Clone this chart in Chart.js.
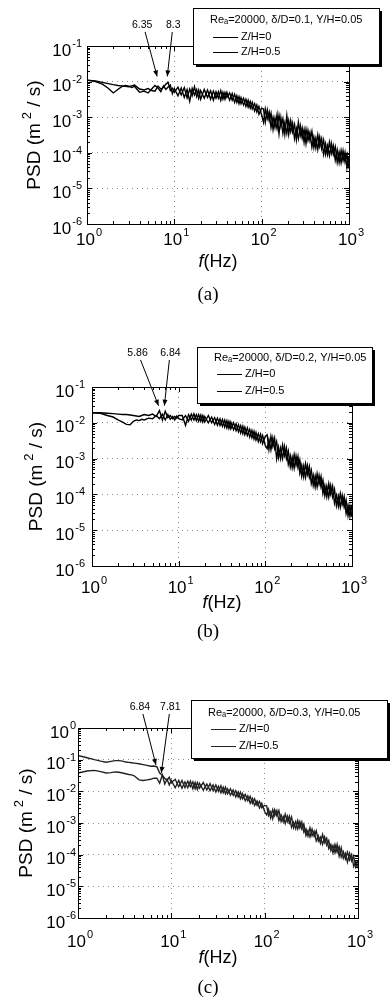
<!DOCTYPE html>
<html lang="en">
<head>
<meta charset="UTF-8">
<title>PSD spectra</title>
<script src="https://cdn.jsdelivr.net/npm/chart.js"></script>
<style>
  body { margin: 0; background: #fff; width: 391px; height: 1004px; overflow: hidden; }
  canvas { display: block; }
</style>
</head>
<body>
<canvas id="chartA" width="391" height="330"></canvas>
<canvas id="chartB" width="391" height="330"></canvas>
<canvas id="chartC" width="391" height="344"></canvas>

<script>
// ---- data ----
const freq = [1, 1.25, 1.5, 1.75, 2, 2.25, 2.5, 2.75, 3, 3.25, 3.5, 3.75, 4, 4.5, 5, 5.5, 6, 6.5, 7, 7.5, 8, 8.5, 9, 9.5, 10,
  11, 12, 13, 14, 15, 16, 17, 18, 19, 20, 22, 24, 26, 28, 30, 32, 34, 36, 38, 40, 43, 46, 49, 52, 55, 58, 62, 66, 70, 74, 78, 83, 88, 93, 100,
  105, 110, 116, 122, 128, 135, 142, 150, 158, 166, 175, 184, 194, 204, 215, 226, 238, 250, 263, 277, 291, 306, 322, 339, 357,
  376, 396, 417, 439, 462, 486, 512, 539, 567, 597, 628, 661, 696, 733, 771, 812, 855, 900, 947, 1000];

const seriesLabels = ['Z/H=0', 'Z/H=0.5'];
const xTicks = [1, 10, 100, 1000];
const yTicksAB = [1e-6, 1e-5, 1e-4, 1e-3, 1e-2, 1e-1];
const yTicksC = [1e-6, 1e-5, 1e-4, 1e-3, 1e-2, 1e-1, 1];

// (a) δ/D = 0.1
const headerA = 'Reₐ=20000, δ/D=0.1, Y/H=0.05';
const psdA_z0 = [1.1e-2, 1.05e-2, 9.5e-3, 8.8e-3, 8.2e-3, 7.8e-3, 7.6e-3, 7.4e-3, 7.2e-3, 7.6e-3, 8.0e-3, 7.0e-3, 6.2e-3, 5.8e-3, 6.4e-3, 5.6e-3, 5.4e-3, 7.5e-3, 6.2e-3, 6.8e-3, 8.5e-3, 9.5e-3, 5.6e-3, 6.5e-3, 5.0e-3,
  7.0e-3, 4.2e-3, 6.8e-3, 3.5e-3, 6.2e-3, 4.0e-3, 7.2e-3, 3.8e-3, 5.8e-3, 3.2e-3, 6.0e-3, 3.6e-3, 5.5e-3, 3.0e-3, 5.2e-3, 3.4e-3, 5.6e-3, 3.2e-3, 5.0e-3, 3.6e-3,
  4.8e-3, 3.0e-3, 4.4e-3, 2.6e-3, 3.8e-3, 2.4e-3, 3.4e-3, 2.0e-3, 3.0e-3, 1.8e-3, 2.6e-3, 1.5e-3, 2.2e-3, 1.2e-3, 1.8e-3,
  1.7e-3, 7.2e-4, 1.6e-3, 8.0e-4, 1.3e-3, 4.5e-4, 9.5e-4, 4.8e-4, 1.15e-3, 5.5e-4, 9.0e-4, 3.3e-4, 1.1e-3, 3.3e-4, 8.0e-4,
  3.8e-4, 6.3e-4, 2.35e-4, 7.2e-4, 3.0e-4, 5.0e-4, 1.95e-4, 4.6e-4, 2.2e-4, 3.75e-4, 1.45e-4, 2.8e-4, 1.35e-4, 3.2e-4, 1.5e-4,
  2.5e-4, 9.1e-5, 1.8e-4, 9.0e-5, 2.0e-4, 9.5e-5, 1.6e-4, 6.2e-5, 1.2e-4, 5.3e-5, 1.17e-4, 6.0e-5, 1.05e-4, 3.8e-5, 8.0e-5];
const psdA_z05 = [1.1e-2, 1.0e-2, 8.5e-3, 6.5e-3, 4.8e-3, 6.0e-3, 7.2e-3, 7.8e-3, 7.5e-3, 6.8e-3, 7.4e-3, 6.0e-3, 5.0e-3, 5.4e-3, 4.8e-3, 6.2e-3, 7.8e-3, 6.6e-3, 5.2e-3, 7.6e-3, 6.0e-3, 7.0e-3, 8.0e-3, 4.6e-3, 6.4e-3,
  4.0e-3, 6.6e-3, 3.6e-3, 6.0e-3, 2.8e-3, 6.4e-3, 4.2e-3, 6.0e-3, 3.4e-3, 5.6e-3, 3.4e-3, 5.8e-3, 3.2e-3, 5.4e-3, 3.4e-3, 5.2e-3, 3.0e-3, 5.0e-3, 3.2e-3, 5.0e-3,
  3.0e-3, 4.6e-3, 2.6e-3, 4.0e-3, 2.4e-3, 3.6e-3, 2.2e-3, 3.2e-3, 1.9e-3, 2.8e-3, 1.7e-3, 2.4e-3, 1.4e-3, 2.0e-3, 1.15e-3,
  7.2e-4, 1.7e-3, 9.0e-4, 1.4e-3, 5.1e-4, 1.0e-3, 5.1e-4, 1.2e-3, 3.4e-4, 9.6e-4, 3.5e-4, 7.0e-4, 3.5e-4, 8.0e-4, 3.9e-4,
  6.8e-4, 2.5e-4, 4.8e-4, 2.5e-4, 5.8e-4, 2.6e-4, 4.6e-4, 1.8e-4, 4.3e-4, 2.2e-4, 4.0e-4, 1.4e-4, 2.6e-4, 1.25e-4, 2.8e-4,
  1.3e-4, 2.3e-4, 9.0e-5, 1.6e-4, 8.3e-5, 1.85e-4, 9.0e-5, 1.5e-4, 5.4e-5, 1.05e-4, 5.2e-5, 1.15e-4, 5.5e-5, 9.2e-5, 3.6e-5];
const peaksA = [6.35, 8.3];
const peakValsA = [1.4e-2, 1.4e-2];

// (b) δ/D = 0.2
const headerB = 'Reₐ=20000, δ/D=0.2, Y/H=0.05';
const psdB_z0 = [1.9e-2, 1.9e-2, 1.85e-2, 1.8e-2, 1.75e-2, 1.7e-2, 1.7e-2, 1.65e-2, 1.6e-2, 1.55e-2, 1.5e-2, 1.6e-2, 1.7e-2, 1.6e-2, 1.75e-2, 1.5e-2, 2.2e-2, 1.2e-2, 2.1e-2, 1.4e-2, 1.6e-2, 1.3e-2, 1.5e-2, 1.35e-2, 1.6e-2,
  1.6e-2, 8.5e-3, 1.7e-2, 1.2e-2, 1.8e-2, 1.15e-2, 1.7e-2, 1.1e-2, 1.6e-2, 1.05e-2, 1.6e-2, 1.0e-2, 1.4e-2, 8.5e-3, 1.3e-2, 8.0e-3, 1.2e-2, 7.2e-3, 1.1e-2, 6.8e-3,
  1.0e-2, 6.0e-3, 8.8e-3, 5.2e-3, 8.0e-3, 4.6e-3, 7.2e-3, 4.0e-3, 6.2e-3, 3.5e-3, 5.4e-3, 3.0e-3, 4.8e-3, 2.6e-3, 4.2e-3,
  4.6e-3, 1.8e-3, 4.2e-3, 2.2e-3, 3.7e-3, 1.0e-3, 2.1e-3, 1.0e-3, 2.4e-3, 1.2e-3, 2.0e-3, 6.9e-4, 1.2e-3, 5.6e-4, 1.3e-3,
  6.5e-4, 1.15e-3, 3.9e-4, 6.6e-4, 3.1e-4, 7.2e-4, 3.6e-4, 6.1e-4, 2.0e-4, 3.5e-4, 1.6e-4, 3.8e-4, 1.9e-4, 3.2e-4, 1.05e-4,
  1.8e-4, 8.6e-5, 2.0e-4, 1.0e-4, 1.7e-4, 5.7e-5, 9.5e-5, 4.6e-5, 1.05e-4, 5.2e-5, 8.8e-5, 2.9e-5, 5.0e-5, 2.4e-5, 5.2e-5];
const psdB_z05 = [1.9e-2, 1.85e-2, 1.6e-2, 1.45e-2, 1.2e-2, 1.05e-2, 9.0e-3, 8.8e-3, 1.1e-2, 1.2e-2, 1.15e-2, 1.25e-2, 1.2e-2, 1.35e-2, 1.3e-2, 1.6e-2, 1.3e-2, 1.75e-2, 1.2e-2, 1.7e-2, 1.25e-2, 1.5e-2, 1.2e-2, 1.55e-2, 1.3e-2,
  1.2e-2, 1.6e-2, 1.1e-2, 1.75e-2, 1.2e-2, 1.7e-2, 1.1e-2, 1.65e-2, 1.05e-2, 1.5e-2, 1.0e-2, 1.45e-2, 9.0e-3, 1.35e-2, 8.4e-3, 1.25e-2, 7.6e-3, 1.15e-2, 7.0e-3, 1.05e-2,
  6.4e-3, 9.4e-3, 5.6e-3, 8.4e-3, 5.0e-3, 7.6e-3, 4.4e-3, 6.6e-3, 3.8e-3, 5.8e-3, 3.3e-3, 5.0e-3, 2.9e-3, 4.4e-3, 2.3e-3,
  1.9e-3, 3.4e-3, 1.75e-3, 3.8e-3, 1.9e-3, 3.0e-3, 1.05e-3, 2.0e-3, 1.0e-3, 2.2e-3, 1.0e-3, 1.65e-3, 5.9e-4, 1.1e-3, 5.4e-4,
  1.2e-3, 5.6e-4, 9.3e-4, 3.2e-4, 6.3e-4, 3.0e-4, 6.4e-4, 3.0e-4, 4.8e-4, 1.75e-4, 3.3e-4, 1.6e-4, 3.4e-4, 1.6e-4, 2.55e-4,
  9.1e-5, 1.7e-4, 8.3e-5, 1.8e-4, 8.5e-5, 1.4e-4, 4.8e-5, 9.0e-5, 4.4e-5, 9.4e-5, 4.4e-5, 7.0e-5, 2.5e-5, 4.8e-5, 2.3e-5];
const peaksB = [5.86, 6.84];
const peakValsB = [3.0e-2, 3.0e-2];

// (c) δ/D = 0.3
const headerC = 'Reₐ=20000, δ/D=0.3, Y/H=0.05';
const psdC_z0 = [1.35e-1, 1.15e-1, 1.0e-1, 9.0e-2, 8.3e-2, 8.8e-2, 9.3e-2, 9.3e-2, 9.0e-2, 8.4e-2, 8.2e-2, 8.0e-2, 7.8e-2, 7.4e-2, 7.0e-2, 6.6e-2, 6.2e-2, 6.3e-2, 6.0e-2, 3.8e-2, 3.2e-2, 2.6e-2, 2.2e-2, 2.8e-2, 1.9e-2,
  2.4e-2, 1.4e-2, 2.2e-2, 1.3e-2, 2.1e-2, 1.4e-2, 2.0e-2, 1.2e-2, 1.9e-2, 1.25e-2, 1.9e-2, 1.1e-2, 1.75e-2, 1.05e-2, 1.6e-2, 1.0e-2, 1.5e-2, 9.0e-3, 1.35e-2, 8.4e-3,
  1.2e-2, 7.4e-3, 1.05e-2, 6.6e-3, 9.4e-3, 5.8e-3, 8.0e-3, 5.0e-3, 7.0e-3, 4.2e-3, 5.8e-3, 3.6e-3, 4.8e-3, 3.0e-3, 3.6e-3,
  3.5e-3, 1.7e-3, 2.3e-3, 1.35e-3, 2.65e-3, 1.7e-3, 2.5e-3, 1.1e-3, 1.6e-3, 9.6e-4, 1.65e-3, 1.0e-3, 1.55e-3, 7.1e-4, 1.1e-3,
  6.5e-4, 1.1e-3, 6.4e-4, 9.2e-4, 4.0e-4, 5.8e-4, 3.6e-4, 6.4e-4, 3.8e-4, 5.7e-4, 2.7e-4, 3.6e-4, 2.1e-4, 3.6e-4, 2.0e-4,
  2.8e-4, 1.35e-4, 1.95e-4, 1.15e-4, 2.1e-4, 9.0e-5, 1.65e-4, 7.6e-5, 1.1e-4, 5.8e-5, 1.1e-4, 6.3e-5, 8.8e-5, 4.1e-5, 6.8e-5];
const psdC_z05 = [3.8e-2, 4.4e-2, 4.6e-2, 4.2e-2, 3.8e-2, 3.9e-2, 4.1e-2, 4.0e-2, 3.8e-2, 3.6e-2, 3.4e-2, 3.3e-2, 3.1e-2, 2.3e-2, 2.2e-2, 2.3e-2, 2.4e-2, 2.6e-2, 2.6e-2, 1.8e-2, 3.3e-2, 1.7e-2, 2.4e-2, 1.6e-2, 2.2e-2,
  1.3e-2, 2.2e-2, 1.25e-2, 2.0e-2, 1.3e-2, 2.1e-2, 1.2e-2, 1.9e-2, 1.15e-2, 1.8e-2, 1.1e-2, 1.7e-2, 1.05e-2, 1.6e-2, 9.6e-3, 1.45e-2, 9.0e-3, 1.35e-2, 8.4e-3, 1.2e-2,
  7.6e-3, 1.1e-2, 6.6e-3, 9.6e-3, 5.8e-3, 8.4e-3, 5.0e-3, 7.2e-3, 4.2e-3, 6.0e-3, 3.6e-3, 5.0e-3, 3.0e-3, 4.2e-3, 2.3e-3,
  1.8e-3, 2.7e-3, 1.45e-3, 2.65e-3, 1.7e-3, 2.5e-3, 1.2e-3, 1.8e-3, 1.1e-3, 1.9e-3, 1.1e-3, 1.65e-3, 7.3e-4, 1.05e-3, 6.6e-4,
  1.2e-3, 7.0e-4, 1.08e-3, 5.1e-4, 6.6e-4, 3.9e-4, 7.0e-4, 3.9e-4, 5.5e-4, 2.7e-4, 3.9e-4, 2.3e-4, 4.35e-4, 2.4e-4, 3.3e-4,
  1.55e-4, 2.1e-4, 1.15e-4, 2.1e-4, 1.2e-4, 1.8e-4, 8.4e-5, 1.25e-4, 7.3e-5, 1.2e-4, 6.8e-5, 1.0e-4, 4.2e-5, 6.0e-5, 3.7e-5];
const peaksC = [6.84, 7.81];
const peakValsC = [6.8e-2, 3.8e-2];

// ---- layout of each panel (pixels) ----
const SANS = '"Liberation Sans", Arial, sans-serif';
const panels = [
  { id: 'chartA', h: 330, area: { l: 87, r: 349, t: 46, b: 224 }, yTicks: yTicksAB,
    s0: psdA_z0, s1: psdA_z05, header: headerA, peaks: peaksA, peakVals: peakValsA, color: '#000',
    leg: { x: 193, y: 8, w: 186, h: 56, rows: [12, 29, 44] }, ann: { dx: [-15, 6], ly: -21 },
    yTitleX: 35, xTitleY: 262, cap: '(a)', capY: 295, xLabY: 16, yLabPad: 5 },
  { id: 'chartB', h: 330, area: { l: 92, r: 352, t: 57, b: 236 }, yTicks: yTicksAB,
    s0: psdB_z0, s1: psdB_z05, header: headerB, peaks: peaksB, peakVals: peakValsB, color: '#000',
    leg: { x: 197, y: 17, w: 175, h: 56, rows: [11, 27, 44] }, ann: { dx: [-21, 6], ly: -34 },
    yTitleX: 37, xTitleY: 273, cap: '(b)', capY: 302, xLabY: 22, yLabPad: 7 },
  { id: 'chartC', h: 344, area: { l: 78, r: 358, t: 68, b: 258 }, yTicks: yTicksC,
    s0: psdC_z0, s1: psdC_z05, header: headerC, peaks: peaksC, peakVals: peakValsC, color: '#222',
    leg: { x: 191, y: 40, w: 196, h: 58, rows: [13, 29, 46] }, ann: { dx: [-16, 9], ly: -21 },
    yTitleX: 27, xTitleY: 298, cap: '(c)', capY: 328, xLabY: 24, yLabPad: 2 }
];

function drawPow(ctx, exp, x, y, align) {
  const base = '17px ' + SANS, small = '11px ' + SANS;
  ctx.font = base;
  const wb = ctx.measureText('10').width;
  ctx.font = small;
  const we = ctx.measureText(exp).width;
  const x0 = align === 'right' ? x - wb - we - 1 : x - (wb + we + 1) / 2;
  ctx.textAlign = 'left';
  ctx.textBaseline = 'middle';
  ctx.font = base;
  ctx.fillText('10', x0, y);
  ctx.font = small;
  ctx.fillText(exp, x0 + wb + 1, y - 7);
}

function makeDecor(p) {
  return {
    id: 'decor',
    afterDraw(chart) {
      const ctx = chart.ctx, a = chart.chartArea;
      const xs = chart.scales.x, ys = chart.scales.y;
      ctx.save();
      ctx.strokeStyle = '#000';
      ctx.fillStyle = '#000';
      ctx.lineWidth = 1;

      // inner tick marks (matlab style)
      ctx.beginPath();
      for (let d = 0; d < 3; d++) {
        for (let m = 1; m < 10; m++) {
          const x = Math.round(xs.getPixelForValue(m * Math.pow(10, d))) + 0.5;
          const len = m === 1 ? 5 : 3;
          ctx.moveTo(x, a.bottom); ctx.lineTo(x, a.bottom - len);
          ctx.moveTo(x, a.top); ctx.lineTo(x, a.top + len);
        }
      }
      const e0 = Math.round(Math.log10(p.yTicks[0]));
      const e1 = Math.round(Math.log10(p.yTicks[p.yTicks.length - 1]));
      for (let d = e0; d < e1; d++) {
        for (let m = 1; m < 10; m++) {
          const y = Math.round(ys.getPixelForValue(m * Math.pow(10, d))) + 0.5;
          const len = m === 1 ? 5 : 3;
          ctx.moveTo(a.left, y); ctx.lineTo(a.left + len, y);
          ctx.moveTo(a.right, y); ctx.lineTo(a.right - len, y);
        }
      }
      ctx.stroke();

      // frame
      ctx.strokeRect(Math.round(a.left) + 0.5, Math.round(a.top) + 0.5,
        Math.round(a.right - a.left), Math.round(a.bottom - a.top));

      // tick labels
      xs.ticks.forEach(t => {
        drawPow(ctx, String(Math.round(Math.log10(t.value))), xs.getPixelForValue(t.value) + 2, a.bottom + p.xLabY, 'center');
      });
      ys.ticks.forEach(t => {
        drawPow(ctx, String(Math.round(Math.log10(t.value))), a.left - p.yLabPad, ys.getPixelForValue(t.value) + 5, 'right');
      });

      // y title
      ctx.save();
      ctx.translate(p.yTitleX, (a.top + a.bottom) / 2);
      ctx.rotate(-Math.PI / 2);
      const f19 = '19px ' + SANS, f13 = '13px ' + SANS;
      ctx.font = f19;
      const w1 = ctx.measureText('PSD (m').width, w3 = ctx.measureText(' / s)').width;
      ctx.font = f13;
      const w2 = ctx.measureText('2').width;
      const tot = w1 + 4 + w2 + w3;
      const x0 = -tot / 2;
      ctx.textBaseline = 'middle';
      ctx.textAlign = 'left';
      ctx.font = f19; ctx.fillText('PSD (m', x0, 0);
      ctx.font = f13; ctx.fillText('2', x0 + w1 + 4, -8);
      ctx.font = f19; ctx.fillText(' / s)', x0 + w1 + 4 + w2, 0);
      ctx.restore();

      // x title
      const fi = 'italic 18px ' + SANS, fr = '18px ' + SANS;
      ctx.font = fi;
      const wf = ctx.measureText('f').width;
      ctx.font = fr;
      const wh = ctx.measureText('(Hz)').width;
      const cx = (a.left + a.right) / 2 - (wf + wh) / 2;
      ctx.textBaseline = 'middle';
      ctx.textAlign = 'left';
      ctx.font = fi; ctx.fillText('f', cx, p.xTitleY);
      ctx.font = fr; ctx.fillText('(Hz)', cx + wf, p.xTitleY);

      // caption
      ctx.font = '19px "Liberation Serif", "Times New Roman", serif';
      ctx.textAlign = 'center';
      ctx.fillText(p.cap, 208, p.capY);

      // peak annotations with arrows
      ctx.font = '10.5px ' + SANS;
      p.peaks.forEach((f, i) => {
        const tx = xs.getPixelForValue(f), ty = ys.getPixelForValue(p.peakVals[i]);
        const lx = tx + p.ann.dx[i], ly = a.top + p.ann.ly;
        ctx.textAlign = 'center';
        ctx.fillText(String(f), lx, ly);
        const sx = lx + (i === 0 ? 3 : -1), sy = ly + 7;
        ctx.beginPath();
        ctx.moveTo(sx, sy);
        ctx.lineTo(tx, ty);
        ctx.stroke();
        const ang = Math.atan2(ty - sy, tx - sx), hl = 6, hw = 2.5;
        ctx.beginPath();
        ctx.moveTo(tx, ty);
        ctx.lineTo(tx - hl * Math.cos(ang) + hw * Math.sin(ang), ty - hl * Math.sin(ang) - hw * Math.cos(ang));
        ctx.lineTo(tx - hl * Math.cos(ang) - hw * Math.sin(ang), ty - hl * Math.sin(ang) + hw * Math.cos(ang));
        ctx.closePath();
        ctx.fill();
      });

      // legend box with shadow
      const L = p.leg;
      ctx.fillStyle = '#000';
      ctx.fillRect(L.x + 3, L.y + 3, L.w, L.h);
      ctx.fillStyle = '#fff';
      ctx.fillRect(L.x, L.y, L.w, L.h);
      ctx.strokeRect(L.x + 0.5, L.y + 0.5, L.w, L.h);
      ctx.fillStyle = '#000';
      ctx.font = '11px ' + SANS;
      ctx.textAlign = 'left';
      ctx.textBaseline = 'middle';
      ctx.fillText(p.header, L.x + 17, L.y + L.rows[0]);
      chart.data.datasets.forEach((ds, i) => {
        const y = L.y + L.rows[i + 1];
        ctx.strokeStyle = ds.borderColor;
        ctx.lineWidth = 1;
        ctx.beginPath();
        ctx.moveTo(L.x + 20, Math.round(y) + 0.5);
        ctx.lineTo(L.x + 45, Math.round(y) + 0.5);
        ctx.stroke();
        ctx.fillText(ds.label, L.x + 48, y);
      });
      ctx.restore();
    }
  };
}

panels.forEach(p => {
  const ctx = document.getElementById(p.id).getContext('2d');
  new Chart(ctx, {
    type: 'line',
    data: {
      datasets: [
        { label: seriesLabels[0], data: freq.map((f, i) => ({ x: f, y: p.s0[i] })),
          borderColor: p.color, borderWidth: 1.4, pointRadius: 0, tension: 0 },
        { label: seriesLabels[1], data: freq.map((f, i) => ({ x: f, y: p.s1[i] })),
          borderColor: p.color, borderWidth: 1.4, pointRadius: 0, tension: 0 }
      ]
    },
    options: {
      responsive: false,
      animation: false,
      layout: { padding: { left: 0, top: p.area.t, right: 391 - p.area.r, bottom: 0 } },
      plugins: { legend: { display: false }, tooltip: { enabled: false } },
      scales: {
        x: {
          type: 'logarithmic', min: 1, max: 1000,
          afterBuildTicks: s => { s.ticks = xTicks.map(v => ({ value: v })); },
          afterFit: s => { s.height = p.h - p.area.b; },
          ticks: { display: false },
          grid: { color: '#8a8a8a', drawTicks: false },
          border: { display: false, dash: [1, 4] }
        },
        y: {
          type: 'logarithmic', min: p.yTicks[0], max: p.yTicks[p.yTicks.length - 1],
          afterBuildTicks: s => { s.ticks = p.yTicks.map(v => ({ value: v })); },
          afterFit: s => { s.width = p.area.l; },
          ticks: { display: false },
          grid: { color: '#8a8a8a', drawTicks: false },
          border: { display: false, dash: [1, 4] }
        }
      }
    },
    plugins: [makeDecor(p)]
  });
});
</script>
</body>
</html>
